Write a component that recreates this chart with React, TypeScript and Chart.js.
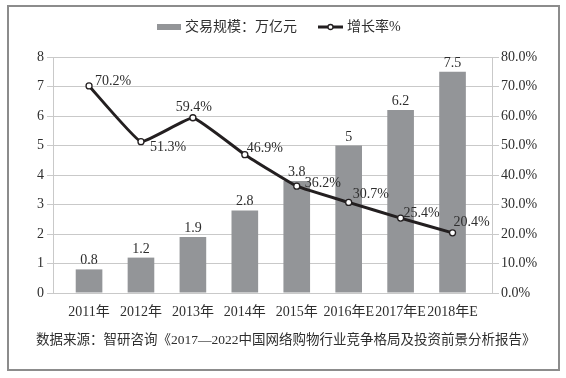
import React, { useEffect, useRef } from "react";
import { Chart, registerables } from "chart.js";

Chart.register(...registerables);

const categories = ["2011年", "2012年", "2013年", "2014年", "2015年", "2016年E", "2017年E", "2018年E"];
const scaleValues = [0.8, 1.2, 1.9, 2.8, 3.8, 5, 6.2, 7.5];
const growthRates = [70.2, 51.3, 59.4, 46.9, 36.2, 30.7, 25.4, 20.4];
const barSeriesName = "交易规模：万亿元";
const lineSeriesName = "增长率%";
const sourceNote = "数据来源：智研咨询《2017—2022中国网络购物行业竞争格局及投资前景分析报告》";

// label placement (layout only): [dx, dy, align]
const rateLabelOffsets: [number, number, CanvasTextAlign][] = [
  [6, -5, "left"],
  [9, 6, "left"],
  [1, -10, "center"],
  [2, -6, "left"],
  [8, -3, "left"],
  [4, -8, "left"],
  [3, -5, "left"],
  [1, -10, "left"],
];

const SERIF = '"Liberation Serif", "DejaVu Serif", serif';
const CJK = '"Liberation Serif", "Noto Sans CJK SC", serif';
const BAR_COLOR = "#939598";
const LINE_COLOR = "#231f20";
const TEXT_COLOR = "#2e2e2e";
const GRID_COLOR = "#c9c9c9";

const labelPlugin = {
  id: "customLabels",
  afterDatasetsDraw(chart: any) {
    const ctx = chart.ctx;
    ctx.save();
    ctx.fillStyle = TEXT_COLOR;
    ctx.font = `14px ${SERIF}`;
    const barMeta = chart.getDatasetMeta(1);
    barMeta.data.forEach((el: any, i: number) => {
      ctx.textAlign = "center";
      ctx.textBaseline = "alphabetic";
      ctx.fillText(String(scaleValues[i]), el.x, el.y - 5);
    });
    const lineMeta = chart.getDatasetMeta(0);
    lineMeta.data.forEach((el: any, i: number) => {
      const [dx, dy, align] = rateLabelOffsets[i];
      ctx.textAlign = align;
      ctx.textBaseline = "middle";
      ctx.fillText(growthRates[i].toFixed(1) + "%", el.x + dx, el.y + dy);
    });
    ctx.restore();
  },
  afterDraw(chart: any) {
    const ctx = chart.ctx;
    ctx.save();
    const ly = 27;
    ctx.fillStyle = BAR_COLOR;
    ctx.fillRect(157, ly - 3, 24, 6);
    ctx.fillStyle = TEXT_COLOR;
    ctx.font = `14px ${CJK}`;
    ctx.textAlign = "left";
    ctx.textBaseline = "middle";
    ctx.fillText(barSeriesName, 185, ly);
    ctx.strokeStyle = LINE_COLOR;
    ctx.lineWidth = 3;
    ctx.beginPath();
    ctx.moveTo(318, ly);
    ctx.lineTo(343, ly);
    ctx.stroke();
    ctx.beginPath();
    ctx.arc(330.5, ly, 2.5, 0, Math.PI * 2);
    ctx.fillStyle = "#ffffff";
    ctx.fill();
    ctx.lineWidth = 1.3;
    ctx.stroke();
    ctx.fillStyle = TEXT_COLOR;
    ctx.fillText(lineSeriesName, 347, ly);
    ctx.font = `13.5px ${CJK}`;
    ctx.fillText(sourceNote, 36, 340);
    ctx.restore();
  },
};

export default function App() {
  const canvasRef = useRef<HTMLCanvasElement | null>(null);

  useEffect(() => {
    const canvas = canvasRef.current;
    if (!canvas) return;
    const chart = new Chart(canvas, {
      type: "bar",
      data: {
        datasets: [
          {
            type: "line",
            label: lineSeriesName,
            data: growthRates.map((v, i) => ({ x: i, y: v })),
            yAxisID: "y1",
            xAxisID: "x",
            borderColor: LINE_COLOR,
            borderWidth: 3,
            pointRadius: 3,
            pointBackgroundColor: "#ffffff",
            pointBorderColor: LINE_COLOR,
            pointBorderWidth: 1.3,
            tension: 0.1,
            order: 0,
          } as any,
          {
            type: "bar",
            label: barSeriesName,
            data: scaleValues.map((v, i) => ({ x: i, y: v })),
            yAxisID: "y",
            xAxisID: "x",
            backgroundColor: BAR_COLOR,
            barPercentage: 0.513,
            categoryPercentage: 1,
            order: 1,
          } as any,
        ],
      },
      options: {
        responsive: false,
        animation: false,
        devicePixelRatio: 1,
        layout: { padding: { top: 57, left: 0, right: 0, bottom: 0 } },
        plugins: {
          legend: { display: false },
          tooltip: { enabled: false },
        },
        scales: {
          x: {
            type: "linear",
            offset: false,
            min: -0.694,
            max: 7.76,
            grid: { display: false },
            border: { display: false },
            afterBuildTicks: (scale: any) => {
              scale.ticks = categories.map((_, i) => ({ value: i }));
            },
            afterFit: (scale: any) => {
              scale.height = 85;
            },
            ticks: {
              autoSkip: false,
              maxRotation: 0,
              padding: 3,
              color: TEXT_COLOR,
              font: { family: CJK, size: 14 },
              callback: (v: any) => categories[Math.round(Number(v))] ?? "",
            },
          },
          y: {
            position: "left",
            min: 0,
            max: 8,
            afterFit: (scale: any) => {
              scale.width = 53;
            },
            ticks: {
              stepSize: 1,
              padding: 3,
              color: TEXT_COLOR,
              font: { family: SERIF, size: 14 },
            },
            grid: { color: GRID_COLOR, lineWidth: 1, tickLength: 6 },
            border: { display: true, color: GRID_COLOR },
          },
          y1: {
            position: "right",
            min: 0,
            max: 80,
            afterFit: (scale: any) => {
              scale.width = 74;
            },
            ticks: {
              stepSize: 10,
              padding: 2,
              color: TEXT_COLOR,
              font: { family: SERIF, size: 14 },
              callback: (v: any) => Number(v).toFixed(1) + "%",
            },
            grid: { drawOnChartArea: false, color: GRID_COLOR, tickLength: 7 },
            border: { display: true, color: GRID_COLOR },
          },
        },
      } as any,
      plugins: [labelPlugin],
    });
    return () => chart.destroy();
  }, []);

  return (
    <div style={{ position: "fixed", left: 0, top: 0, width: 566, height: 378, background: "#ffffff" }}>
      <div
        style={{
          position: "absolute",
          left: 7,
          top: 5,
          width: 553,
          height: 366,
          boxSizing: "border-box",
          border: "2px solid #8c8c8c",
        }}
      />
      <canvas ref={canvasRef} width={566} height={378} style={{ position: "absolute", left: 0, top: 0 }} />
    </div>
  );
}
